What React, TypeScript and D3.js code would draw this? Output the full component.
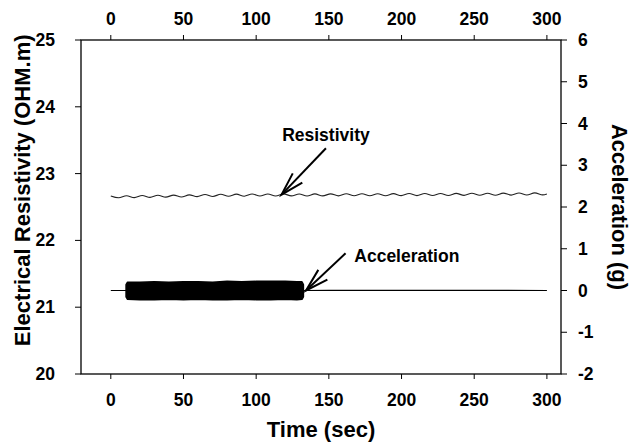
import React from "react";
import * as d3 from "d3";

// resistivity trace (sec, ohm.m), read at the crests and troughs of the ripple
const resTime = [
  0, 5.4, 10.8, 16.2, 21.6, 27, 32.4, 37.8, 43.2, 48.6, 54, 59.4, 64.8, 70.2,
  75.6, 81, 86.4, 91.8, 97.2, 102.6, 108, 113.4, 118.8, 124.2, 129.6, 135,
  140.4, 145.8, 151.2, 156.6, 162, 167.4, 172.8, 178.2, 183.6, 189, 194.4,
  199.8, 205.2, 210.6, 216, 221.4, 226.8, 232.2, 237.6, 243, 248.4, 253.8,
  259.2, 264.6, 270, 275.4, 280.8, 286.2, 291.6, 297, 300,
];
const resValue = [
  22.665, 22.638, 22.668, 22.64, 22.672, 22.644, 22.676, 22.648, 22.678,
  22.65, 22.682, 22.655, 22.686, 22.658, 22.69, 22.66, 22.692, 22.662, 22.694,
  22.664, 22.695, 22.665, 22.697, 22.666, 22.695, 22.665, 22.696, 22.666,
  22.697, 22.667, 22.698, 22.668, 22.698, 22.668, 22.699, 22.669, 22.7, 22.67,
  22.701, 22.671, 22.702, 22.672, 22.703, 22.673, 22.704, 22.674, 22.705,
  22.675, 22.706, 22.677, 22.708, 22.678, 22.709, 22.68, 22.711, 22.682, 22.695,
];

// acceleration (g): quiet baseline plus envelope of the shaking period
const accBaseTime = [0, 10, 133, 150, 300];
const accBaseValue = [0, 0, 0, 0.005, 0];
const accBandTime = [10.5, 11.5, 20, 30, 40, 50, 60, 70, 80, 90, 100, 110, 120, 128, 131.5, 132.5];
const accBandMax = [0.14, 0.2, 0.2, 0.21, 0.2, 0.21, 0.21, 0.2, 0.22, 0.21, 0.22, 0.22, 0.22, 0.21, 0.21, 0.14];
const accBandMin = [-0.15, -0.21, -0.22, -0.22, -0.21, -0.22, -0.21, -0.22, -0.22, -0.21, -0.22, -0.22, -0.21, -0.22, -0.21, -0.15];

const timeTicks = [0, 50, 100, 150, 200, 250, 300];
const resTicks = [20, 21, 22, 23, 24, 25];
const accTicks = [-2, -1, 0, 1, 2, 3, 4, 5, 6];

const W = 642, H = 448;
const margin = { top: 40, right: 81, bottom: 74, left: 81 };
const font = "'Liberation Sans', Arial, sans-serif";

export default function App() {
  const x = d3.scaleLinear().domain([-20.5, 309.7]).range([margin.left, W - margin.right]);
  const yL = d3.scaleLinear().domain([20, 25]).range([H - margin.bottom, margin.top]);
  const yR = d3.scaleLinear().domain([-2, 6]).range([H - margin.bottom, margin.top]);
  const x0 = margin.left, x1 = W - margin.right, y0 = margin.top, y1 = H - margin.bottom;

  const resLine = d3.line<number>()
    .x((d, i) => x(resTime[i]))
    .y(d => yL(d))
    .curve(d3.curveCatmullRom);

  const baseLine = d3.line<number>()
    .x((d, i) => x(accBaseTime[i]))
    .y(d => yR(d));

  const band = d3.area<number>()
    .x(d => x(d))
    .y0((d, i) => yR(accBandMin[i]))
    .y1((d, i) => yR(accBandMax[i]));

  // arrow annotations in data coordinates
  const arrows = [
    { label: "Resistivity", lx: 148, ly: yL(23.49), anchor: "middle", tail: [x(148), yL(23.38)], tip: [x(117.5), yL(22.685)] },
    { label: "Acceleration", lx: 167.5, ly: yR(0.69), anchor: "start", tail: [x(161.5), yR(0.89)], tip: [x(134.3), yR(0)] },
  ];

  const head = (tail: number[], tip: number[]) => {
    const a = Math.atan2(tail[1] - tip[1], tail[0] - tip[0]);
    const len = 24, spread = (16 * Math.PI) / 180;
    return [a - spread, a + spread].map(b => [tip[0] + len * Math.cos(b), tip[1] + len * Math.sin(b)]);
  };

  return (
    <svg width={W} height={H} style={{ position: "absolute", left: 0, top: 0, background: "#fff" }} fontFamily={font}>
      {/* data */}
      <path d={baseLine(accBaseValue) || ""} fill="none" stroke="#000" strokeWidth={1.2} />
      <path d={band(accBandTime) || ""} fill="#000" stroke="#000" strokeWidth={1.5} strokeLinejoin="round" />
      <path d={resLine(resValue) || ""} fill="none" stroke="#222" strokeWidth={1.1} />

      {/* frame */}
      <rect x={x0} y={y0} width={x1 - x0} height={y1 - y0} fill="none" stroke="#000" strokeWidth={1.3} />

      {/* bottom + top ticks */}
      {timeTicks.map(t => (
        <g key={"t" + t}>
          <line x1={x(t)} x2={x(t)} y1={y1} y2={y1 + 5} stroke="#000" />
          <line x1={x(t)} x2={x(t)} y1={y0} y2={y0 - 5} stroke="#000" />
          <text x={x(t)} y={y1 + 32} textAnchor="middle" fontSize={17.5} fontWeight="bold">{t}</text>
          <text x={x(t)} y={y0 - 15} textAnchor="middle" fontSize={17.5} fontWeight="bold">{t}</text>
        </g>
      ))}
      {resTicks.map(v => (
        <g key={"l" + v}>
          <line x1={x0 - 6} x2={x0} y1={yL(v)} y2={yL(v)} stroke="#000" />
          <text x={x0 - 26} y={yL(v) + 6} textAnchor="end" fontSize={17.5} fontWeight="bold">{v}</text>
        </g>
      ))}
      {accTicks.map(v => (
        <g key={"r" + v}>
          <line x1={x1} x2={x1 + 6} y1={yR(v)} y2={yR(v)} stroke="#000" />
          <text x={x1 + 17} y={yR(v) + 6} textAnchor="start" fontSize={17.5} fontWeight="bold">{v}</text>
        </g>
      ))}

      {/* axis titles */}
      <text x={(x0 + x1) / 2} y={H - 11} textAnchor="middle" fontSize={22} fontWeight="bold">Time (sec)</text>
      <text transform={`translate(30,${yL(22.75)}) rotate(-90)`} textAnchor="middle" fontSize={22} fontWeight="bold">
        Electrical Resistivity (OHM.m)
      </text>
      <text transform={`translate(612,${yR(2.0)}) rotate(90)`} textAnchor="middle" fontSize={22} fontWeight="bold">
        Acceleration (g)
      </text>

      {/* annotations */}
      {arrows.map(a => {
        const [b1, b2] = head(a.tail, a.tip);
        return (
          <g key={a.label}>
            <line x1={a.tail[0]} y1={a.tail[1]} x2={a.tip[0]} y2={a.tip[1]} stroke="#000" strokeWidth={2} />
            <polyline points={`${b1[0]},${b1[1]} ${a.tip[0]},${a.tip[1]} ${b2[0]},${b2[1]}`} fill="none" stroke="#000" strokeWidth={2} />
            <text x={x(a.lx)} y={a.ly} textAnchor={a.anchor as any} fontSize={17.5} fontWeight="bold">{a.label}</text>
          </g>
        );
      })}
    </svg>
  );
}
